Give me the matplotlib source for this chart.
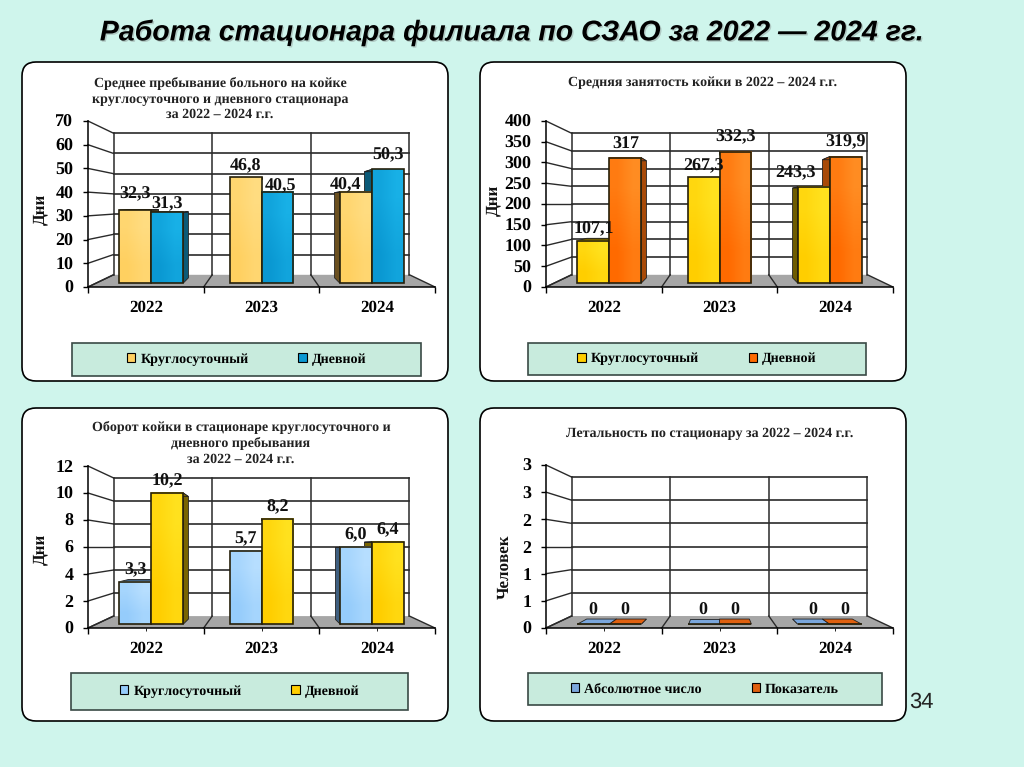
"""Hospital ward stats slide: four pseudo-3D bar charts."""

import matplotlib
matplotlib.use('Agg')
import matplotlib.pyplot as plt
import matplotlib.patheffects as pe
from matplotlib.colors import LinearSegmentedColormap
from matplotlib.patches import FancyBboxPatch, Rectangle, Patch, Polygon

plt.rcParams['font.family'] = ['Liberation Serif', 'DejaVu Serif']
plt.rcParams['text.hinting'] = 'no_hinting'
plt.rcParams['text.hinting_factor'] = 1

W, H = 1024, 767
BG = '#CFF5EC'
LEGEND_BG = '#C8EBDD'

years = ['2022', '2023', '2024']

stay_round = [32.3, 46.8, 40.4]
stay_day = [31.3, 40.5, 50.3]
stay_labels = [['32,3', '46,8', '40,4'], ['31,3', '40,5', '50,3']]
stay_ticks = ['0', '10', '20', '30', '40', '50', '60', '70']

busy_round = [107.1, 267.3, 243.3]
busy_day = [317, 332.3, 319.9]
busy_labels = [['107,1', '267,3', '243,3'], ['317', '332,3', '319,9']]
busy_ticks = ['0', '50', '100', '150', '200', '250', '300', '350', '400']

turn_round = [3.3, 5.7, 6.0]
turn_day = [10.2, 8.2, 6.4]
turn_labels = [['3,3', '5,7', '6,0'], ['10,2', '8,2', '6,4']]
turn_ticks = ['0', '2', '4', '6', '8', '10', '12']

death_abs = [0, 0, 0]
death_rate = [0, 0, 0]
death_labels = [['0', '0', '0'], ['0', '0', '0']]
death_ticks = ['0', '1', '1', '2', '2', '3', '3']

# depth scales towards the vanishing point (middle of the front plane)
S_BACK = 0.853
S_BAR = 0.952
S_BAR_BACK = 0.89
BAR_W = 0.29
GRID = '#2a2a2a'


def px_axes(fig, x0, x1, y0, y1):
    return fig.add_axes([x0 / W, 1 - y0 / H, (x1 - x0) / W, (y0 - y1) / H])


def draw_panel(fig, box, title, title_xy, ylabel, ylabel_xy, ticks, ymax, series, labels,
               names, colors, sides, legend_box, plot_y, center_tick=0, nudges=None):
    bg = fig.axes[0]
    nudges = nudges or {}
    # rounded white card
    x0, y0, x1, y1 = box
    bg.add_patch(FancyBboxPatch((x0 + 12, y0 + 12), x1 - x0 - 24, y1 - y0 - 24,
                                boxstyle='round,pad=12,rounding_size=14',
                                fc='white', ec='black', lw=1.2))
    # legend band
    lx0, ly0, lx1, ly1 = legend_box
    bg.add_patch(Rectangle((lx0, ly0), lx1 - lx0, ly1 - ly0, fc=LEGEND_BG, ec='#3a4a45', lw=1.2))

    ax = px_axes(fig, x0 + 66, x0 + 413, plot_y[0], plot_y[1])
    ax.set_facecolor('none')
    xv, yv = 1.5, ymax * 0.5

    def proj(x, y, s):
        return xv + s * (x - xv), yv + s * (y - yv)

    # floor
    ax.add_patch(Polygon([proj(0, 0, 1), proj(3, 0, 1), proj(3, 0, S_BACK), proj(0, 0, S_BACK)],
                         fc='#A6A6A6', ec='none', zorder=1))
    # back wall and side grid
    grid_vals = [ymax * i / (len(ticks) - 1) for i in range(len(ticks))]
    for v in grid_vals[1:]:
        xs, ys = zip(proj(0, v, S_BACK), proj(3, v, S_BACK))
        ax.plot(xs, ys, color=GRID, lw=1.2, zorder=1.5, clip_on=False)
    for v in grid_vals:
        xs, ys = zip(proj(0, v, 1), proj(0, v, S_BACK))
        ax.plot(xs, ys, color=GRID, lw=1.0, zorder=1.5, clip_on=False)
    for c in range(4):
        xs, ys = zip(proj(c, 0, S_BACK), proj(c, ymax, S_BACK))
        ax.plot(xs, ys, color=GRID, lw=1.1, zorder=1.5, clip_on=False)
        xs, ys = zip(proj(c, 0, 1), proj(c, 0, S_BACK))
        ax.plot(xs, ys, color=GRID, lw=1.0, zorder=1.5, clip_on=False)

    # bars, drawn as back side + top + front face
    for k, vals in enumerate(series):
        cmap = LinearSegmentedColormap.from_list('bar', colors[k])
        for i, v in enumerate(vals):
            left = i + 0.5 - BAR_W + k * BAR_W
            right = left + BAR_W
            sx = left if left > xv else right if right < xv else None
            if sx is not None:
                ax.add_patch(Polygon([proj(sx, 0, S_BAR), proj(sx, v, S_BAR),
                                      proj(sx, v, S_BAR_BACK), proj(sx, 0, S_BAR_BACK)],
                                     fc=sides[k], ec='#222222', lw=0.6, zorder=2 + k * 0.1, clip_on=False))
            ax.add_patch(Polygon([proj(left, v, S_BAR), proj(right, v, S_BAR),
                                  proj(right, v, S_BAR_BACK), proj(left, v, S_BAR_BACK)],
                                 fc=sides[k] if v > 0 else colors[k][0], ec='#222222', lw=0.6,
                                 zorder=2.2 + k * 0.1, clip_on=False))
            fx, fy = proj(left, 0, S_BAR)
            fx1, fy1 = proj(right, v, S_BAR)
            if v > 0:
                ax.imshow([[0.5, 1], [0, 0.5]], cmap=cmap, vmin=0, vmax=1, extent=(fx, fx1, fy, fy1),
                          aspect='auto', interpolation='bilinear', zorder=2.4 + k * 0.1, clip_on=False)
            ax.add_patch(Rectangle((fx, fy), fx1 - fx, fy1 - fy, fc='none', ec='#26200a', lw=1.2,
                                   zorder=2.5 + k * 0.1, clip_on=False))
            dx, dy = nudges.get((k, i), (0, 0))
            ax.annotate(labels[k][i], ((fx + fx1) / 2, fy1), xytext=(dx * 0.72, 2.6 + dy * 0.72),
                        textcoords='offset points', ha='center', va='bottom', fontsize=13,
                        fontweight='bold', color='#111111', zorder=4, annotation_clip=False)

    ax.set_xlim(0, 3)
    ax.set_ylim(0, ymax)

    # axes proper
    for side in ('top', 'right'):
        ax.spines[side].set_visible(False)
    for side in ('left', 'bottom'):
        ax.spines[side].set_linewidth(1.1)
    ax.set_yticks(grid_vals)
    ax.set_yticklabels(ticks, fontsize=13, fontweight='bold')
    ax.tick_params(axis='y', length=3.6, width=1, pad=7)
    ax.set_xticks(range(4))
    ax.set_xticklabels([])
    ax.tick_params(axis='x', length=4, width=1)
    ax.set_xticks([0.5, 1.5, 2.5], minor=True)
    ax.set_xticklabels(years, minor=True, fontsize=12.3, fontweight='bold')
    ax.tick_params(axis='x', which='minor', length=center_tick, pad=9.5 - center_tick)

    bg.text(title_xy[0], title_xy[1], title, ha='center', va='center', fontsize=10.3,
            fontweight='bold', color='#222222', linespacing=1.3)
    bg.text(ylabel_xy[0], ylabel_xy[1], ylabel, rotation=90, ha='center', va='center',
            fontsize=12.5, fontweight='bold', color='#111111')

    handles = [Patch(fc=colors[0][0], ec='black', lw=0.8), Patch(fc=colors[1][0], ec='black', lw=0.8)]
    fig.legend(handles, names, loc='center', frameon=False, ncol=2,
               prop={'weight': 'bold', 'size': 10.2},
               bbox_to_anchor=((lx0 + lx1) / 2 / W, 1 - (ly0 + ly1) / 2 / H),
               handlelength=0.6, handleheight=0.6, handletextpad=0.35, columnspacing=3.5,
               borderpad=0)


fig = plt.figure(figsize=(W / 100, H / 100), dpi=100, facecolor=BG)
bg = fig.add_axes([0, 0, 1, 1])
bg.set_xlim(0, W)
bg.set_ylim(H, 0)
bg.axis('off')

bg.text(505, 33, 'Работа стационара филиала по СЗАО за 2022 — 2024 гг.', ha='center', va='center',
        fontsize=20.5, fontweight='bold', fontstyle='italic', family='Liberation Sans', color='black',
        path_effects=[pe.withSimplePatchShadow(offset=(1, -1), shadow_rgbFace='#777777', alpha=0.35)])
bg.text(921, 702, '34', ha='center', va='center', fontsize=15.5, family='Liberation Sans', color='#222222')

YELLOW = ('#FFCE00', '#FFE11E')

draw_panel(fig, (22, 62, 448, 381),
           'Среднее пребывание больного на койке\nкруглосуточного и дневного стационара\nза 2022 – 2024 г.г.',
           (220, 99), 'Дни', (40, 209), stay_ticks, 70, [stay_round, stay_day], stay_labels,
           ['Круглосуточный', 'Дневной'], [('#FFD060', '#FFDC80'), ('#0A98D2', '#18B0E6')],
           ['#6B5020', '#0B5A78'], (72, 343, 421, 376), (287, 121),
           nudges={(0, 0): (0, 4), (1, 0): (0, -3), (0, 2): (-10, -5), (1, 1): (3, -6), (1, 2): (0, 3)})
draw_panel(fig, (480, 62, 906, 381),
           'Средняя занятость койки в 2022 – 2024 г.г.',
           (703, 83), 'Дни', (493, 200), busy_ticks, 400, [busy_round, busy_day], busy_labels,
           ['Круглосуточный', 'Дневной'], [YELLOW, ('#FF6A00', '#FF8C22')],
           ['#6E5C00', '#A84A08'], (528, 343, 866, 375), (287, 121),
           nudges={(0, 2): (-18, 2), (1, 1): (0, 3), (1, 2): (0, 3), (1, 0): (0, 2)})
draw_panel(fig, (22, 408, 448, 721),
           'Оборот койки в стационаре круглосуточного и\nдневного пребывания\nза 2022 – 2024 г.г.',
           (241, 443), 'Дни', (40, 549), turn_ticks, 12, [turn_round, turn_day], turn_labels,
           ['Круглосуточный', 'Дневной'], [('#95CCFB', '#B6DEFF'), YELLOW],
           ['#3F5F80', '#7A6500'], (71, 673, 408, 710), (628, 466), center_tick=2.5)
draw_panel(fig, (480, 408, 906, 721),
           'Летальность по стационару за 2022 – 2024 г.г.',
           (710, 434), 'Человек', (505, 567), death_ticks, 3, [death_abs, death_rate], death_labels,
           ['Абсолютное число', 'Показатель'], [('#7AA6DC', '#7AA6DC'), ('#E0600F', '#E0600F')],
           ['#3D5570', '#7A3408'], (528, 673, 882, 705), (628, 465), center_tick=2.5,
           nudges={(0, 0): (-1, 2), (1, 0): (-1, 2), (0, 1): (-1, 2), (1, 1): (-1, 2), (0, 2): (-1, 2), (1, 2): (-1, 2)})

fig.savefig('out.png', dpi=100, facecolor=BG)
